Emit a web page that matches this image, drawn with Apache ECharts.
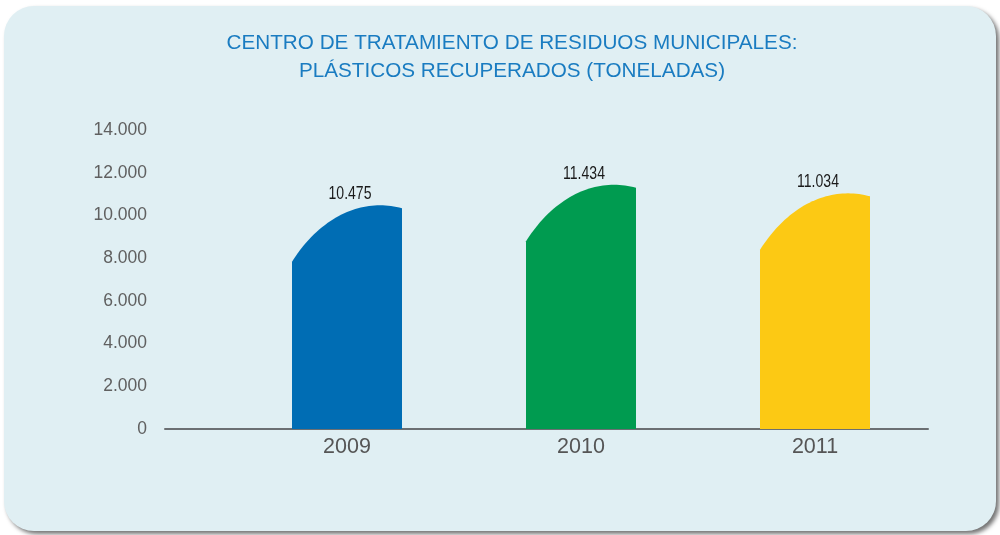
<!DOCTYPE html>
<html><head><meta charset="utf-8">
<script src="https://cdn.jsdelivr.net/npm/echarts@6/dist/echarts.min.js"></script>
<style>
html,body{margin:0;padding:0;background:#fff;width:1000px;height:535px;overflow:hidden;}
#panel{position:absolute;left:4px;top:6px;width:992px;height:525px;border-radius:30px;background:#e0eff3;box-shadow:3px 3px 4px rgba(0,0,0,0.55);}
#chart{position:absolute;left:0;top:0;width:1000px;height:535px;}
</style></head>
<body><div id="panel"></div><div id="chart"></div>
<script>
const titleLines = ['CENTRO DE TRATAMIENTO DE RESIDUOS MUNICIPALES:', 'PLÁSTICOS RECUPERADOS (TONELADAS)'];
const categories = ['2009', '2010', '2011'];
const values = [10475, 11434, 11034];
const barColors = ['#006db4', '#009b50', '#fcc914'];
const yTicks = [0, 2000, 4000, 6000, 8000, 10000, 12000, 14000];

function fmt(v){ return String(v).replace(/\B(?=(\d{3})+(?!\d))/g, '.'); }

const chart = echarts.init(document.getElementById('chart'), null, {renderer:'canvas'});
chart.setOption({
  backgroundColor: 'transparent',
  animation: false,
  title: {
    text: titleLines.join('\n'), left: 507, textAlign: 'center', top: 24,
    textStyle: {color:'#1a7cc1', fontSize:20.7, fontWeight:'normal', fontFamily:'Liberation Sans, Arial', lineHeight:28, align:'center'}
  },
  grid: [
    {left:165, right:72, top:130, bottom:106},
    {left:230, right:68, top:130, bottom:106}
  ],
  xAxis: [
    {type:'value', gridIndex:0, min:0, max:1, axisLine:{show:true, onZero:false, lineStyle:{color:'#6b6f72', width:2}}, axisTick:{show:false}, axisLabel:{show:false}, splitLine:{show:false}},
    {type:'category', gridIndex:1, data:categories, axisLine:{show:false}, axisTick:{show:false},
     axisLabel:{color:'#555', fontSize:21.5, margin:7, fontFamily:'Liberation Sans, Arial'}}
  ],
  yAxis: [
    {type:'value', gridIndex:0, min:yTicks[0], max:yTicks[yTicks.length-1], interval:2000,
     axisLine:{show:false}, axisTick:{show:false}, splitLine:{show:false},
     axisLabel:{color:'#606060', fontSize:17.5, margin:18, fontFamily:'Liberation Sans, Arial', formatter:v=>fmt(v)}},
    {type:'value', gridIndex:1, min:yTicks[0], max:yTicks[yTicks.length-1], show:false}
  ],
  series: [{
    type:'custom', xAxisIndex:1, yAxisIndex:1,
    data: values.map((v,i)=>[i,v]),
    renderItem: function(params, api){
      const idx = api.value(0), val = api.value(1);
      const top = api.coord([idx, val]);
      const base = api.coord([idx, 0]);
      const w = 110;
      const L = top[0] - w/2, R = top[0] + w/2;
      const rx = 1.09*w, ry = 1.6*w;
      const cx = L + 0.8*w, cy = top[1] + ry;
      const pts = [[L, base[1]]];
      const N = 40;
      for (let k=0;k<=N;k++){
        const x = L + (R-L)*k/N;
        const t = (x-cx)/rx;
        const y = cy - ry*Math.sqrt(Math.max(0,1-t*t));
        pts.push([x,y]);
      }
      pts.push([R, base[1]]);
      return {
        type:'group',
        children:[
          {type:'polygon', shape:{points:pts}, style:{fill:barColors[idx]}},
          {type:'text', x: top[0]+3, y: top[1]-11, scaleX:0.78,
           style:{text:fmt(val), align:'center', verticalAlign:'middle', fill:'#1a1a1a', fontSize:18, fontFamily:'Liberation Sans, Arial'}}
        ]
      };
    }
  }]
});
</script></body></html>
